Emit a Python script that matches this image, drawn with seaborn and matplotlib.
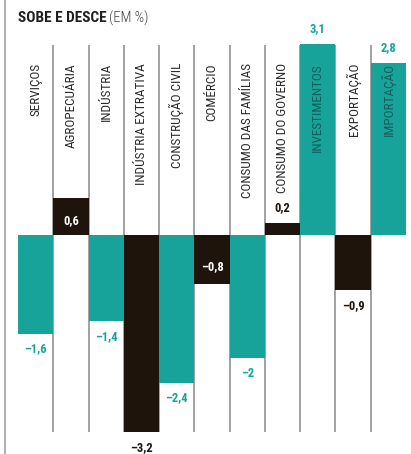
import matplotlib
matplotlib.use("Agg")
import matplotlib.pyplot as plt
import seaborn as sns
import pandas as pd
from matplotlib.lines import Line2D

categories = ["SERVIÇOS", "AGROPECUÁRIA", "INDÚSTRIA", "INDÚSTRIA EXTRATIVA",
              "CONSTRUÇÃO CIVIL", "COMÉRCIO", "CONSUMO DAS FAMÍLIAS",
              "CONSUMO DO GOVERNO", "INVESTIMENTOS", "EXPORTAÇÃO", "IMPORTAÇÃO"]
values = [-1.6, 0.6, -1.4, -3.2, -2.4, -0.8, -2.0, 0.2, 3.1, -0.9, 2.8]
value_labels = ["–1,6", "0,6", "–1,4", "–3,2", "–2,4", "–0,8", "–2", "0,2", "3,1", "–0,9", "2,8"]

TEAL = "#17a39a"
DARK = "#1e140c"
TEAL_TXT = "#0f5f5a"

sns.set_theme(style="white")
plt.rcParams["font.family"] = ["Roboto Condensed", "DejaVu Sans"]

df = pd.DataFrame({"cat": categories, "val": values})
colors = [TEAL if i % 2 == 0 else DARK for i in range(len(categories))]

fig = plt.figure(figsize=(4.11, 4.54), dpi=100)
ax = fig.add_axes([18 / 411, 0, 388 / 411, 1])
sns.barplot(data=df, x="cat", y="val", hue="cat", palette=colors, width=1.0,
            saturation=1, linewidth=0, legend=False, ax=ax, zorder=3)

ppu = 61.6
ax.set_ylim(-(454 - 235) / ppu, 235 / ppu)
ax.set_xlim(-0.5, len(categories) - 0.5)
ax.axis("off")

# column separators
for i in range(len(categories) - 1):
    ax.vlines(i + 0.5, -3.2, 3.08, color="#9a9a9a", linewidth=1.3, zorder=1)

# category labels
for i, c in enumerate(categories):
    col = TEAL_TXT if c in ("INVESTIMENTOS", "IMPORTAÇÃO") else "#2a2a2a"
    ax.text(i, (235 - 63) / ppu, c, rotation=90, ha="center", va="top",
            fontsize=9.5, fontweight="normal", color=col, zorder=5)

# value labels
inside = {"AGROPECUÁRIA", "COMÉRCIO"}
for i, (c, v, lab) in enumerate(zip(categories, values, value_labels)):
    base = colors[i]
    if c in inside:
        y = 0.24 if v > 0 else -0.52
        ax.text(i, y, lab, ha="center", va="center", color="white",
                fontsize=9, fontweight="bold", zorder=5)
    else:
        off = 15 / ppu if v > 0 else -15 / ppu
        col = TEAL if base == TEAL else DARK
        ax.text(i, v + off, lab, ha="center", va="center", color=col,
                fontsize=9, fontweight="bold", zorder=5)

# title
t1 = fig.text(18 / 411, 1 - 18 / 454, "SOBE E DESCE", fontsize=11,
              fontweight="bold", color="#1e1e1e", va="center", ha="left")
ax.annotate("(EM %)", xy=(1, 0.5), xycoords=t1, xytext=(2, 0),
            textcoords="offset points", fontsize=10.5, fontweight="light",
            color="#444444", va="center", ha="left", annotation_clip=False)

# left border line
fig.add_artist(Line2D([5 / 411, 5 / 411], [0, 1], transform=fig.transFigure,
                      color="#b0b0b0", linewidth=1.5))

fig.savefig("out.png", dpi=100, facecolor="white")
